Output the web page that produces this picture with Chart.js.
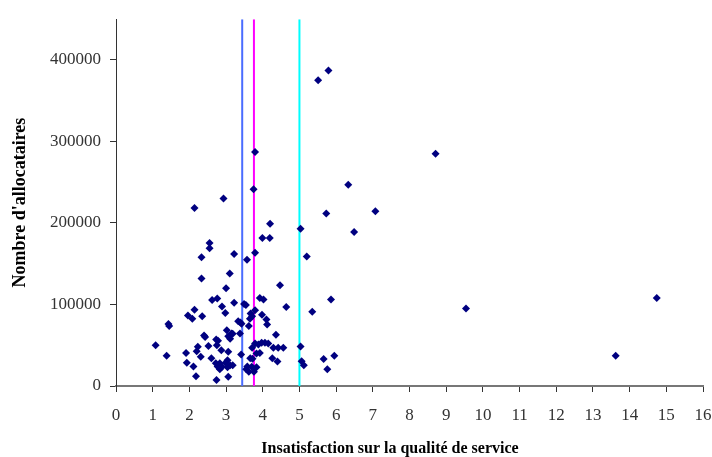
<!DOCTYPE html>
<html>
<head>
<meta charset="utf-8">
<script src="https://cdn.jsdelivr.net/npm/chart.js@4/dist/chart.umd.min.js"></script>
<style>
  html, body { margin: 0; padding: 0; background: #fff; }
  #wrap { width: 712px; height: 457px; }
</style>
</head>
<body>
<div id="wrap"><canvas id="chart"></canvas></div>
<script>
// x = insatisfaction (%), y = nombre d'allocataires
const pointsX = [
  5.79, 5.51, 8.71, 6.33, 5.73, 7.07, 5.03, 6.49, 5.20, 5.86, 5.35, 9.54, 14.74, 13.62, 5.03, 5.06, 5.12, 5.66, 5.95, 5.76,
  3.79, 3.75, 2.93, 2.14, 4.20, 3.99, 4.19, 2.55, 2.55, 3.22, 3.79, 2.33, 3.57, 2.33, 3.10, 4.47, 3.00,
  2.62, 2.76, 2.89, 2.98, 2.14, 1.96, 2.08, 2.35, 1.43, 1.45, 3.22, 3.54, 3.49, 3.92, 4.02, 4.64, 3.67, 3.71, 3.79,
  3.98, 4.10, 4.12, 3.33, 3.39, 3.42, 3.62, 3.65,
  1.08, 1.38, 1.91, 1.93, 2.11, 2.18, 2.23, 2.20, 2.31, 2.40, 2.43, 2.52, 2.60, 2.73, 2.78, 2.75, 2.87, 2.72, 2.77,
  2.83, 2.89, 2.83, 2.99, 3.04, 2.74, 3.02, 3.06, 3.11, 3.15, 3.38, 4.36, 3.79, 3.88, 3.97, 4.06, 4.15, 4.29, 4.42,
  4.56, 3.71, 3.06, 3.41, 3.66, 3.72, 3.83, 3.92, 4.26, 4.40, 3.58, 3.70, 3.83, 3.55, 3.62, 3.76, 3.04, 3.11, 3.18,
  3.06, 3.18
];
const pointsY = [
  387000, 375000, 285000, 247000, 211500, 214500, 193000, 189000, 159000, 106000, 91000, 95000, 108000, 37000, 48500, 30500, 25500, 33000, 37000, 20500,
  287000, 241500, 230000, 218500, 199000, 181500, 181500, 175500, 169000, 162000, 163500, 158000, 155000, 132000, 138000, 123500, 120000,
  105500, 107500, 97500, 89500, 93500, 86500, 82500, 85500, 76000, 73500, 102000, 99500, 100500, 108000, 106000, 97000, 89000, 85500, 93000,
  87500, 81500, 75500, 79500, 78000, 76500, 73500, 82500,
  50000, 37000, 40500, 28500, 24000, 12000, 48000, 42500, 36000, 62000, 60000, 49000, 34000, 57000, 55500, 50000, 44000, 28000, 24000,
  28000, 23500, 20500, 28500, 23000, 7500, 68500, 61000, 58000, 64500, 64500, 63000, 52000, 51000, 53000, 53000, 52000, 47000, 47000,
  47000, 47000, 42000, 38500, 34000, 33500, 40000, 40500, 34000, 30000, 24000, 23500, 23000, 20500, 17500, 17500, 31500, 25500, 25500,
  11500, 64000
];

// seuils verticaux
const refLines = [3.44, 3.76, 5.0];
const refColors = ['#4a6cff', '#ff00ff', '#00ffff'];

const xTicks = [0, 1, 2, 3, 4, 5, 6, 7, 8, 9, 10, 11, 12, 13, 14, 15, 16];
const yTicks = [0, 100000, 200000, 300000, 400000];
const X_MAX = 16;
const Y_MAX = 450000;

const xTitle = 'Insatisfaction sur la qualité de service';
const yTitle = "Nombre d'allocataires";

const FONT = "'Liberation Serif', 'Times New Roman', serif";

const datasets = [{
  type: 'scatter',
  data: pointsX.map((x, i) => ({ x, y: pointsY[i] })),
  pointStyle: 'rectRot',
  pointRadius: 4,
  backgroundColor: '#000080',
  borderColor: '#000080',
  borderWidth: 0,
  order: 0,
}];
refLines.forEach((v, i) => {
  datasets.push({
    type: 'line',
    data: [{ x: v, y: 0 }, { x: v, y: Y_MAX }],
    borderColor: refColors[i],
    borderWidth: 2,
    pointRadius: 0,
    fill: false,
    order: 1,
  });
});

// titre de l'axe x, légèrement décalé vers la gauche comme l'original
const xTitlePlugin = {
  id: 'xTitle',
  afterDraw(chart) {
    const ctx = chart.ctx;
    ctx.save();
    ctx.font = `bold 16px ${FONT}`;
    ctx.fillStyle = '#000';
    ctx.textAlign = 'center';
    ctx.textBaseline = 'alphabetic';
    ctx.fillText(xTitle, 390, 453);
    ctx.restore();
  },
};

new Chart(document.getElementById('chart'), {
  type: 'scatter',
  data: { datasets },
  plugins: [xTitlePlugin],
  options: {
    responsive: true,
    maintainAspectRatio: false,
    animation: false,
    layout: { padding: { top: 17, right: 0, bottom: 0, left: 0 } },
    plugins: { legend: { display: false }, tooltip: { enabled: false } },
    scales: {
      x: {
        type: 'linear',
        min: 0,
        max: X_MAX,
        afterBuildTicks: (s) => { s.ticks = xTicks.map(v => ({ value: v })); },
        afterFit: (s) => { s.height = 71; s.paddingRight = 9; s.paddingLeft = 0; },
        border: { display: true, color: '#777', width: 2 },
        grid: { drawOnChartArea: false, drawTicks: true, tickLength: 6, color: '#333' },
        ticks: {
          autoSkip: false, maxRotation: 0, padding: 13,
          color: '#333', font: { family: FONT, size: 17 },
        },
        title: { display: false },
      },
      y: {
        type: 'linear',
        min: 0,
        max: Y_MAX,
        afterBuildTicks: (s) => { s.ticks = yTicks.map(v => ({ value: v })); },
        afterFit: (s) => { s.width = 116; },
        border: { display: true, color: '#333', width: 1 },
        grid: { drawOnChartArea: false, drawTicks: true, tickLength: 6, color: '#333' },
        ticks: {
          padding: 9, color: '#333', font: { family: FONT, size: 17 },
          callback: (v) => String(v),
        },
        title: {
          display: true, text: yTitle, color: '#000', padding: { top: 10, bottom: 4 },
          font: { family: FONT, size: 18, weight: 'bold' },
        },
      },
    },
  },
});
</script>
</body>
</html>
